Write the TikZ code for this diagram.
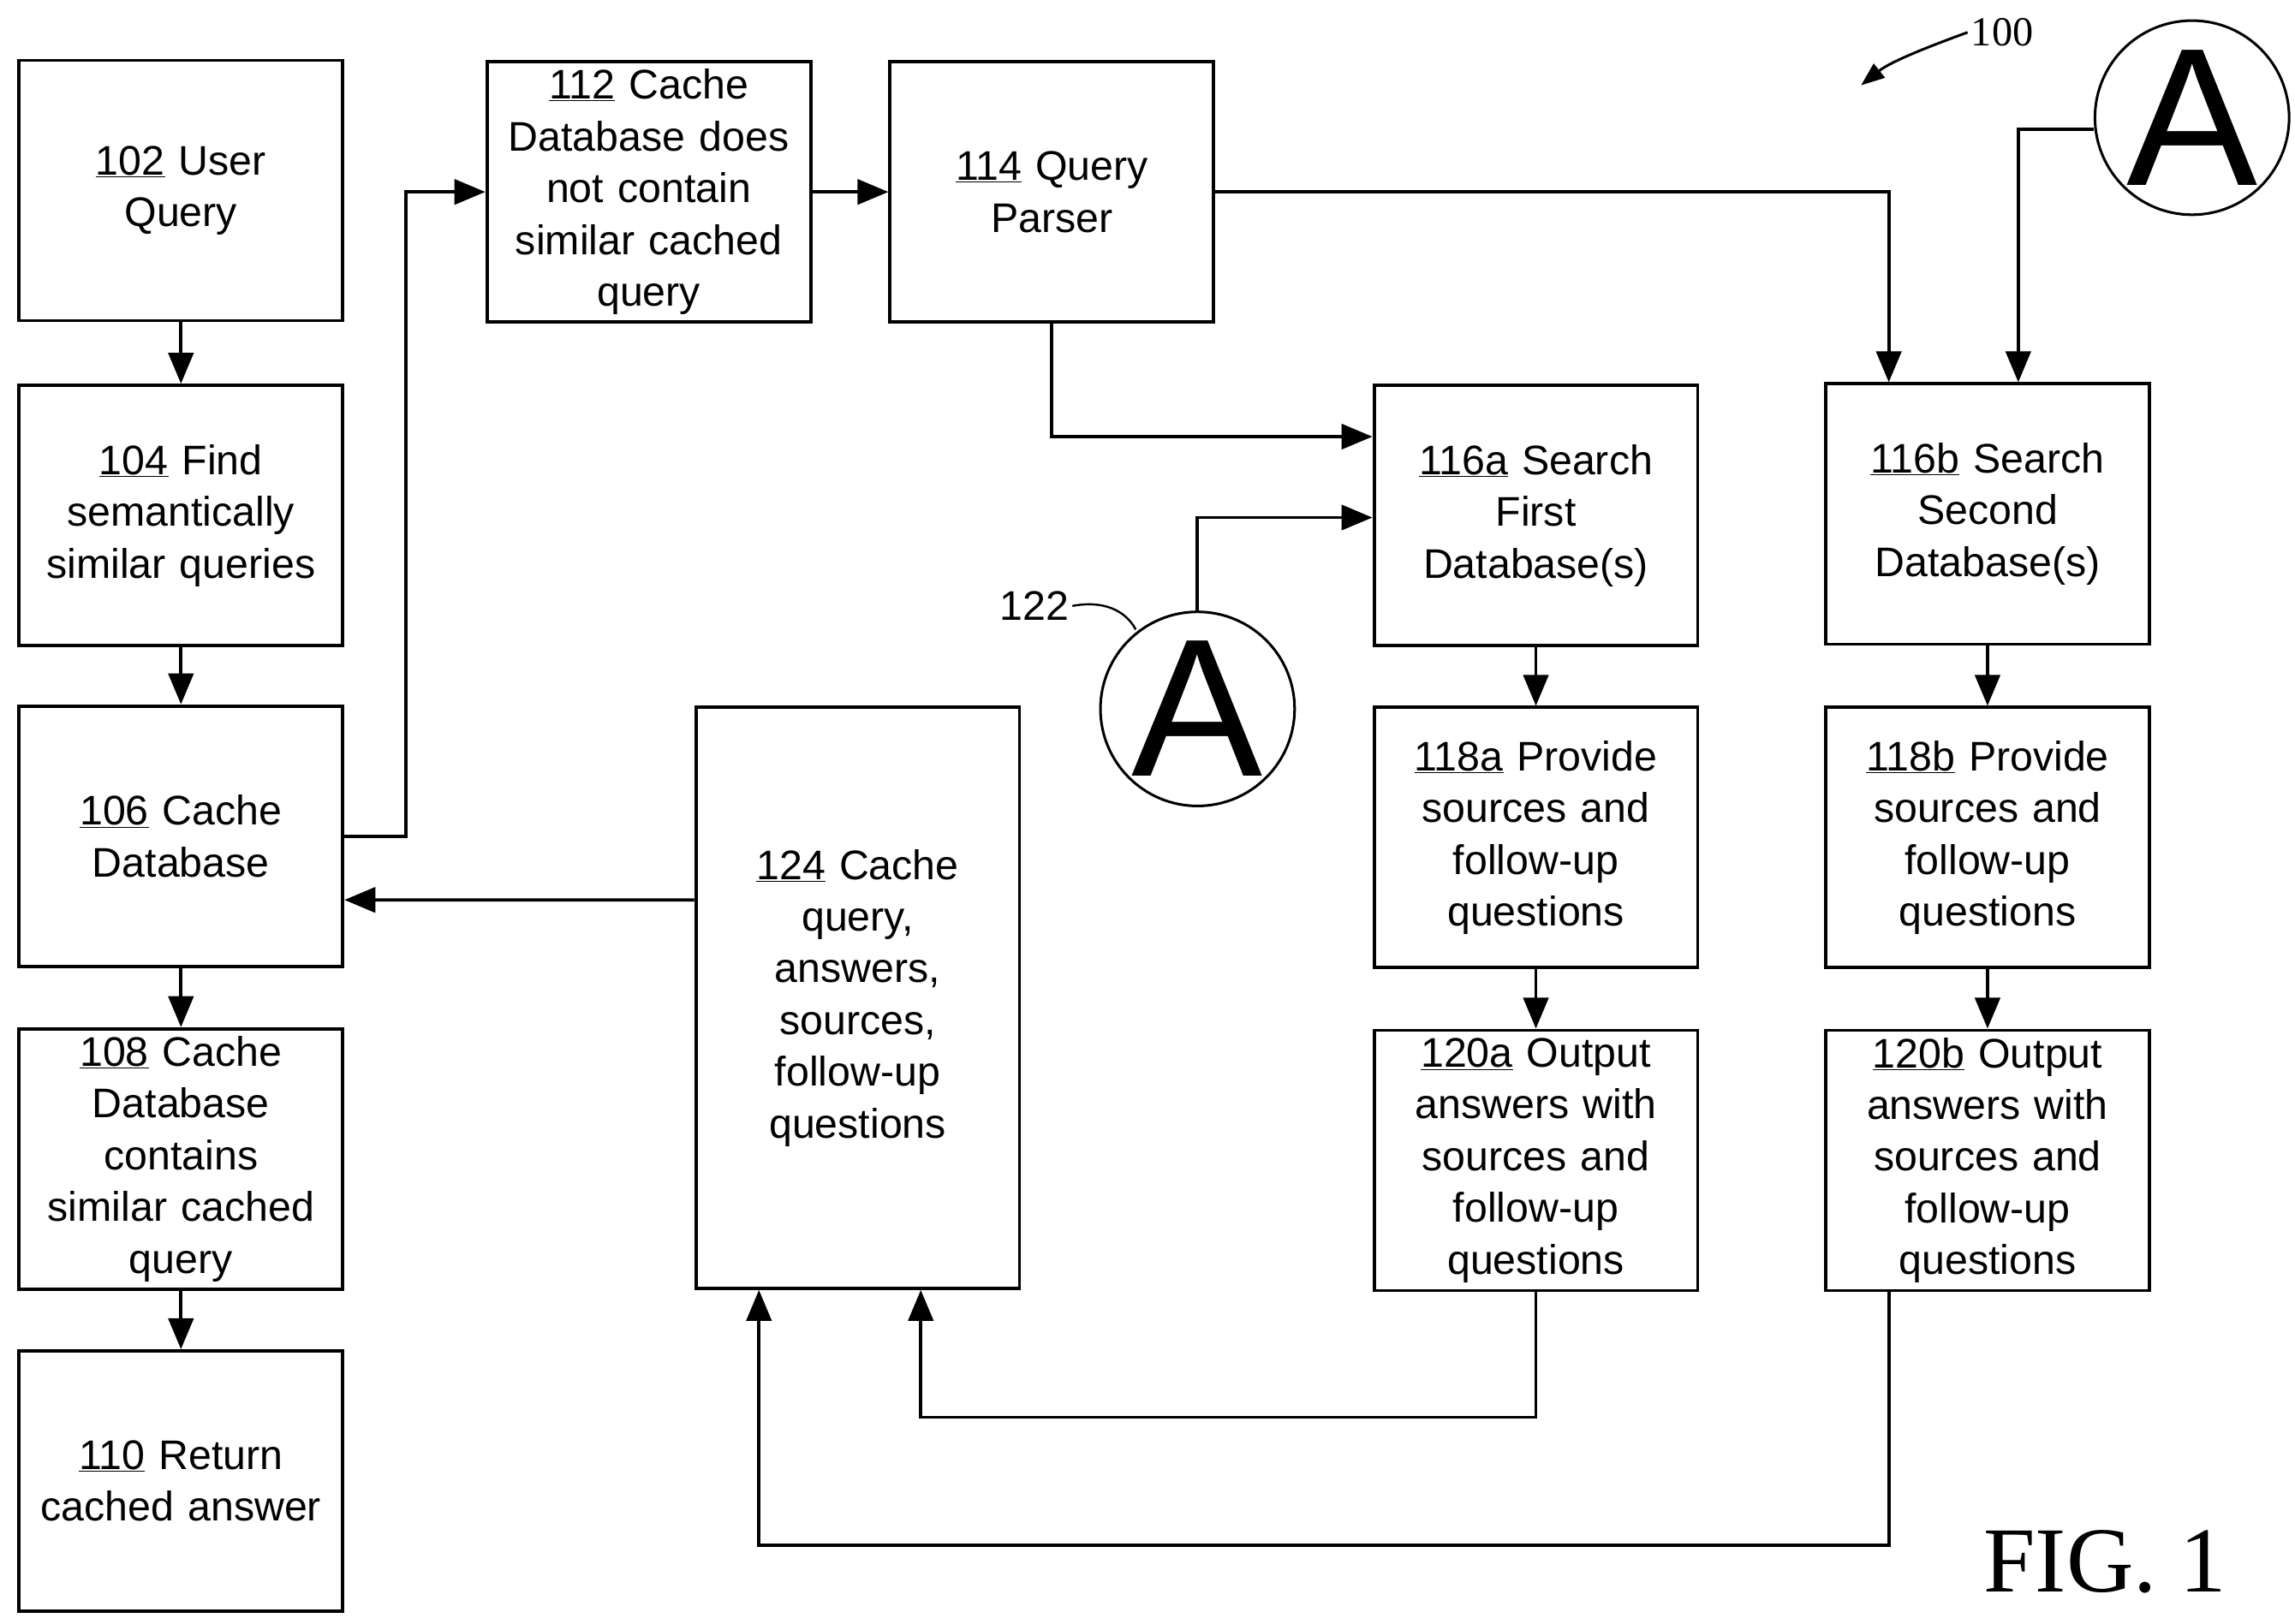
\documentclass[tikz,border=0pt]{standalone}
\usepackage{fontspec}
\setmainfont{Liberation Sans}
\newfontfamily\seriff{Liberation Serif}
\usetikzlibrary{arrows.meta,calc}
\begin{document}
\begin{tikzpicture}[x=0.05cm,y=-0.05cm,
  box/.style={draw,line width=3.2pt,minimum width=11cm,minimum height=8.85cm,align=center,inner sep=0pt,text width=10.5cm,font=\fontsize{40}{50}\selectfont},
  ar/.style={line width=3.2pt,-{Triangle[length=1.05cm,width=0.85cm]}},
  circ/.style={draw,circle,line width=2.5pt,minimum size=6.6cm,inner sep=0pt,font=\fontsize{190}{190}\selectfont}]
\useasboundingbox (0,0) rectangle (1560,1104);
\node[box] (n102) at (123,129.5) {\underline{102} User\\Query};
\node[box] (n104) at (123,350.5) {\underline{104} Find\\semantically\\similar queries};
\node[box] (n106) at (123,568.5) {\underline{106} Cache\\Database};
\node[box] (n108) at (123,788) {\underline{108} Cache\\Database\\contains\\similar cached\\query};
\node[box] (n110) at (123,1007) {\underline{110} Return\\cached answer};
\node[box] (n112) at (441,130.5) {\underline{112} Cache\\Database does\\not contain\\similar cached\\query};
\node[box] (n114) at (715,130.5) {\underline{114} Query\\Parser};
\node[box] (n116a) at (1044,350.5) {\underline{116a} Search\\First\\Database(s)};
\node[box] (n116b) at (1351,349.5) {\underline{116b} Search\\Second\\Database(s)};
\node[box] (n118a) at (1044,569.5) {\underline{118a} Provide\\sources and\\follow-up\\questions};
\node[box] (n118b) at (1351,569.5) {\underline{118b} Provide\\sources and\\follow-up\\questions};
\node[box] (n120a) at (1044,789) {\underline{120a} Output\\answers with\\sources and\\follow-up\\questions};
\node[box] (n120b) at (1351,789) {\underline{120b} Output\\answers with\\sources and\\follow-up\\questions};
\node[box,minimum height=19.75cm] (n124) at (583,678.5) {\underline{124} Cache\\query,\\answers,\\sources,\\follow-up\\questions};
\node[circ] (A1) at (814,482) {A};
\node[circ] (A2) at (1490,80) {A};
\node[font=\fontsize{40}{48}\selectfont] (l122) at (703,412) {122};
\node[font=\seriff\fontsize{40}{48}\selectfont] (l100) at (1361,22) {100};
\node[font=\seriff\fontsize{90}{100}\selectfont,inner sep=0pt] (fig) at (1431,1062) {FIG. 1};
\coordinate (c122) at (772,428);
\draw[line width=2pt] (l122.east) .. controls (750,408) and (765,415) .. (c122);
\coordinate (c100) at (1265,58);
\draw[line width=2.5pt,-{Triangle[length=0.8cm,width=0.6cm]}] (l100.west) .. controls (1310,32) and (1285,42) .. (c100);
\draw[ar] (n102.south) -- (n104.north);
\draw[ar] (n104.south) -- (n106.north);
\draw[ar] (n106.south) -- (n108.north);
\draw[ar] (n108.south) -- (n110.north);
\draw[ar] (n106.east) -| ($(n106.east)+(42,0)$) |- (n112.west);
\draw[ar] (n112.east) -- (n114.west);
\draw[ar] (n114.east) -| ($(n116b.north west)+(44,0)$);
\draw[ar] (n114.south) |- ($(n116a.north west)+(0,36)$);
\draw[ar] (A1.north) |- ($(n116a.north west)+(0,91)$);
\draw[ar] ($(A2.west)+(0,8)$) -| ($(n116b.north west)+(132,0)$);
\draw[ar] (n116a.south) -- (n118a.north);
\draw[ar] (n116b.south) -- (n118b.north);
\draw[ar] (n118a.south) -- (n120a.north);
\draw[ar] (n118b.south) -- (n120b.north);
\draw[ar] (n120a.south) -- ++(0,85) -| ($(n124.south west)+(154,0)$);
\draw[ar] ($(n120b.south west)+(44,0)$) -- ++(0,172) -| ($(n124.south west)+(44,0)$);
\draw[ar] ($(n124.north west)+(0,132)$) -- ($(n106.north east)+(0,133)$);
\end{tikzpicture}
\end{document}
